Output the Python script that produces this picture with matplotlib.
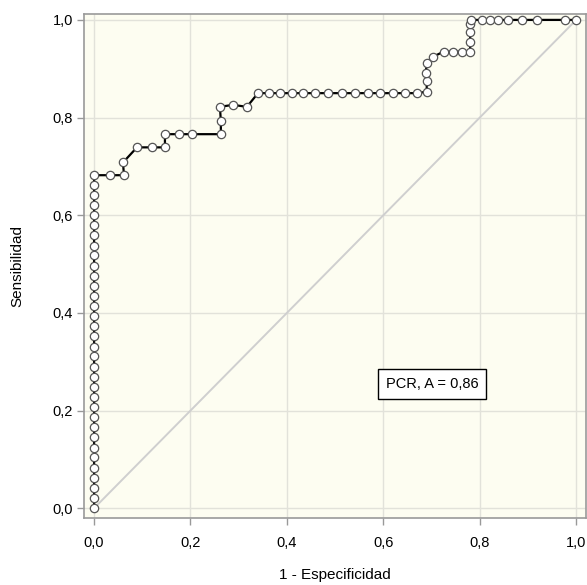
import matplotlib.pyplot as plt
import matplotlib.ticker as ticker

plt.rcParams['font.family'] = ['Liberation Sans', 'DejaVu Sans']

# ROC curve points (1 - especificidad, sensibilidad)
fpr = [0.0] * 34 + [
    0.033, 0.062, 0.060, 0.089, 0.120, 0.147, 0.147, 0.176, 0.203, 0.263,
    0.263, 0.261, 0.288, 0.317, 0.340, 0.362, 0.385, 0.410, 0.434, 0.459,
    0.485, 0.515, 0.541, 0.569, 0.593, 0.621, 0.645, 0.670, 0.690, 0.690,
    0.688, 0.690, 0.704, 0.725, 0.745, 0.763, 0.780, 0.780, 0.780, 0.780,
    0.782, 0.804, 0.822, 0.838, 0.859, 0.887, 0.918, 0.977, 1.0,
]
tpr = [
    0.000, 0.021, 0.041, 0.062, 0.083, 0.104, 0.124, 0.145, 0.166, 0.186,
    0.207, 0.228, 0.248, 0.269, 0.290, 0.311, 0.331, 0.352, 0.373, 0.393,
    0.414, 0.435, 0.455, 0.476, 0.497, 0.518, 0.538, 0.559, 0.580, 0.600,
    0.621, 0.642, 0.662, 0.682,
    0.682, 0.682, 0.708, 0.739, 0.739, 0.739, 0.766, 0.766, 0.766, 0.766,
    0.793, 0.822, 0.826, 0.822, 0.850, 0.850, 0.850, 0.850, 0.850, 0.850,
    0.850, 0.850, 0.850, 0.850, 0.850, 0.850, 0.850, 0.850, 0.853, 0.874,
    0.891, 0.911, 0.925, 0.935, 0.935, 0.935, 0.935, 0.955, 0.975, 0.992,
    1.0, 1.0, 1.0, 1.0, 1.0, 1.0, 1.0, 1.0, 1.0,
]
ticks = [0.0, 0.2, 0.4, 0.6, 0.8, 1.0]
label = 'PCR, A = 0,86'

fig = plt.figure(figsize=(5.87, 5.85), dpi=100)
ax = fig.add_axes([0.143, 0.1145, 0.855, 0.8615])
ax.set_facecolor('#fdfdf1')

# reference diagonal
ax.plot([0, 1], [0, 1], color='#cfcfcf', lw=1.4, zorder=2)

# ROC curve
ax.plot(fpr, tpr, color='black', lw=1.6, marker='o', ms=6,
        mfc='white', mec='#555555', mew=0.9, zorder=3)

ax.set_xlim(-0.021, 1.02)
ax.set_ylim(-0.02, 1.012)
ax.set_xticks(ticks)
ax.set_yticks(ticks)
fmt = ticker.FuncFormatter(lambda v, pos: '{:.1f}'.format(v).replace('.', ','))
ax.xaxis.set_major_formatter(fmt)
ax.yaxis.set_major_formatter(fmt)
ax.grid(True, color='#e2e2da', lw=1.0, zorder=1)
ax.set_axisbelow(True)
ax.tick_params(length=5, width=1, color='#999999', labelsize=10.5)
ax.tick_params(axis='x', pad=8)
ax.tick_params(axis='y', pad=3)

for side in ['left', 'top', 'right', 'bottom']:
    ax.spines[side].set_color('#9a9a9a')
    ax.spines[side].set_linewidth(1.2)

ax.set_xlabel('1 - Especificidad', fontsize=11, labelpad=13)
ax.set_ylabel('Sensibilidad', fontsize=11, labelpad=20)

ax.text(0.701, 0.254, label, fontsize=10.5, ha='center', va='center', zorder=4,
        bbox=dict(boxstyle='square,pad=0.55', fc='white', ec='black', lw=1.0))

plt.savefig('out.png', dpi=100)
